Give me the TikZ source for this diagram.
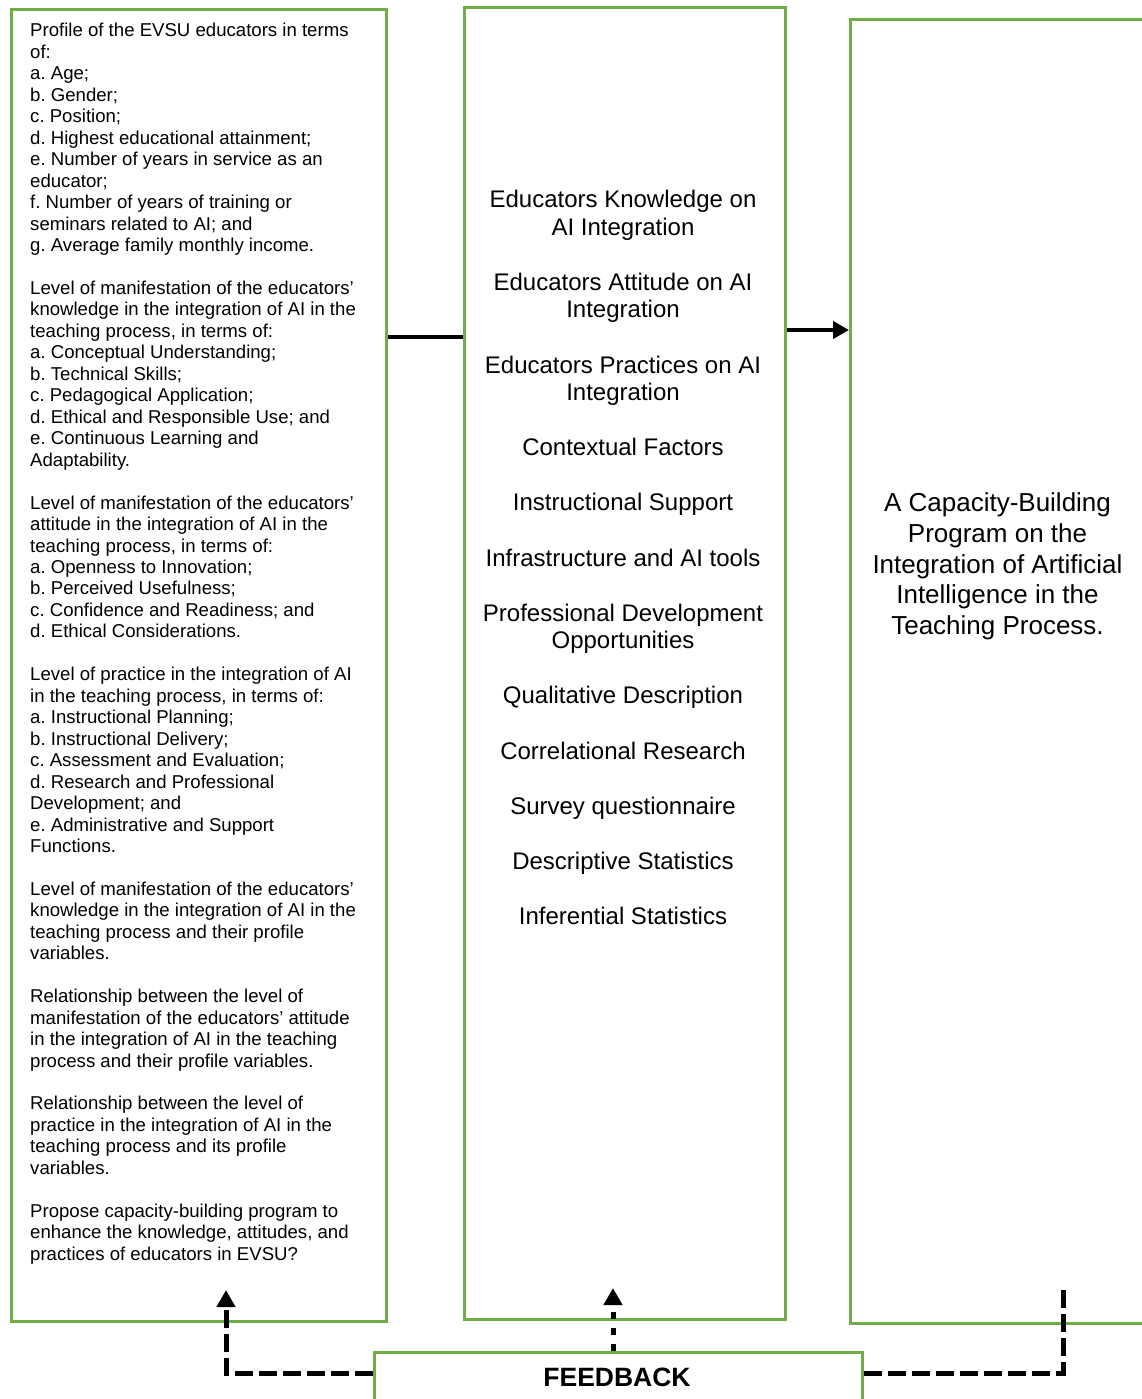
\documentclass[tikz,border=0pt]{standalone}
\usepackage{fontspec}
\setmainfont{Liberation Sans}
\usetikzlibrary{arrows.meta}
\definecolor{boxgreen}{HTML}{70AD47}
\frenchspacing
\begin{document}
\begin{tikzpicture}[x=1pt,y=-1pt,
  frame/.style={draw=boxgreen, line width=3pt, inner sep=0pt, anchor=north west},
  ltext/.style={anchor=base west, align=left, inner sep=0pt, font=\fontsize{18.6}{21.46}\selectfont},
  mtext/.style={anchor=base, align=center, inner sep=0pt, font=\fontsize{24}{27.58}\selectfont},
  rtext/.style={anchor=base, align=center, inner sep=0pt, font=\fontsize{26}{30.75}\selectfont},
  ftext/.style={anchor=base, inner sep=0pt, font=\fontsize{26.5}{30}\selectfont\bfseries},
  conn/.style={line width=4pt, black},
  fbline/.style={line width=5pt, black, dash pattern=on 18pt off 6pt},
  fbdot/.style={line width=5pt, black, dash pattern=on 7pt off 9pt},
  tip/.style={-{Triangle[length=17pt,width=18pt]}}
]
\useasboundingbox (0,0) rectangle (1142,1399);
\clip (0,0) rectangle (1142,1399);

% boxes
\node[frame, minimum width=375pt, minimum height=1312pt] (L) at (10,8) {};
\node[frame, minimum width=321pt, minimum height=1312pt] (M) at (463,6) {};
\node[frame, minimum width=451pt, minimum height=1304pt] (R) at (849,18) {};
\node[frame, minimum width=488pt, minimum height=100pt] (F) at (373,1351) {};

% left text (anchored at the baseline of its last line)
\node[ltext] (Ltxt) at (30,1260.2) {Profile of the EVSU educators in terms\\
of:\\
a. Age;\\
b. Gender;\\
c. Position;\\
d. Highest educational attainment;\\
e. Number of years in service as an\\
educator;\\
f. Number of years of training or\\
seminars related to AI; and\\
g. Average family monthly income.\\[21.46pt]
Level of manifestation of the educators’\\
knowledge in the integration of AI in the\\
teaching process, in terms of:\\
a. Conceptual Understanding;\\
b. Technical Skills;\\
c. Pedagogical Application;\\
d. Ethical and Responsible Use; and\\
e. Continuous Learning and\\
Adaptability.\\[21.46pt]
Level of manifestation of the educators’\\
attitude in the integration of AI in the\\
teaching process, in terms of:\\
a. Openness to Innovation;\\
b. Perceived Usefulness;\\
c. Confidence and Readiness; and\\
d. Ethical Considerations.\\[21.46pt]
Level of practice in the integration of AI\\
in the teaching process, in terms of:\\
a. Instructional Planning;\\
b. Instructional Delivery;\\
c. Assessment and Evaluation;\\
d. Research and Professional\\
Development; and\\
e. Administrative and Support\\
Functions.\\[21.46pt]
Level of manifestation of the educators’\\
knowledge in the integration of AI in the\\
teaching process and their profile\\
variables.\\[21.46pt]
Relationship between the level of\\
manifestation of the educators’ attitude\\
in the integration of AI in the teaching\\
process and their profile variables.\\[21.46pt]
Relationship between the level of\\
practice in the integration of AI in the\\
teaching process and its profile\\
variables.\\[21.46pt]
Propose capacity-building program to\\
enhance the knowledge, attitudes, and\\
practices of educators in EVSU?};

% middle text
\node[mtext] (Mtxt) at (623,924.6) {Educators Knowledge on\\
AI Integration\\[27.58pt]
Educators Attitude on AI\\
Integration\\[27.58pt]
Educators Practices on AI\\
Integration\\[27.58pt]
Contextual Factors\\[27.58pt]
Instructional Support\\[27.58pt]
Infrastructure and AI tools\\[27.58pt]
Professional Development\\
Opportunities\\[27.58pt]
Qualitative Description\\[27.58pt]
Correlational Research\\[27.58pt]
Survey questionnaire\\[27.58pt]
Descriptive Statistics\\[27.58pt]
Inferential Statistics};

% right text
\node[rtext] (Rtxt) at (997.5,634.5) {A Capacity-Building\\
Program on the\\
Integration of Artificial\\
Intelligence in the\\
Teaching Process.};

% feedback text
\node[ftext] (Ftxt) at (617,1386.5) {FEEDBACK};

% connectors
\coordinate (yLM) at (0,337);
\coordinate (yMR) at (0,330);
\coordinate (yFB) at (0,1373);
\coordinate (tipL) at (226,1290);
\coordinate (tipM) at (613,1288);
\coordinate (endR) at (1063,1288);

\draw[conn] (L.east |- yLM) -- (M.west |- yLM);
\draw[conn, -{Triangle[length=16pt,width=17pt]}] (M.east |- yMR) -- (R.west |- yMR);

\draw[fbline, tip] (F.west |- yFB) -| (tipL);
\draw[fbdot, tip] (F.north -| tipM) -- (tipM);
\draw[fbline] (F.east |- yFB) -| (endR);
\end{tikzpicture}
\end{document}
